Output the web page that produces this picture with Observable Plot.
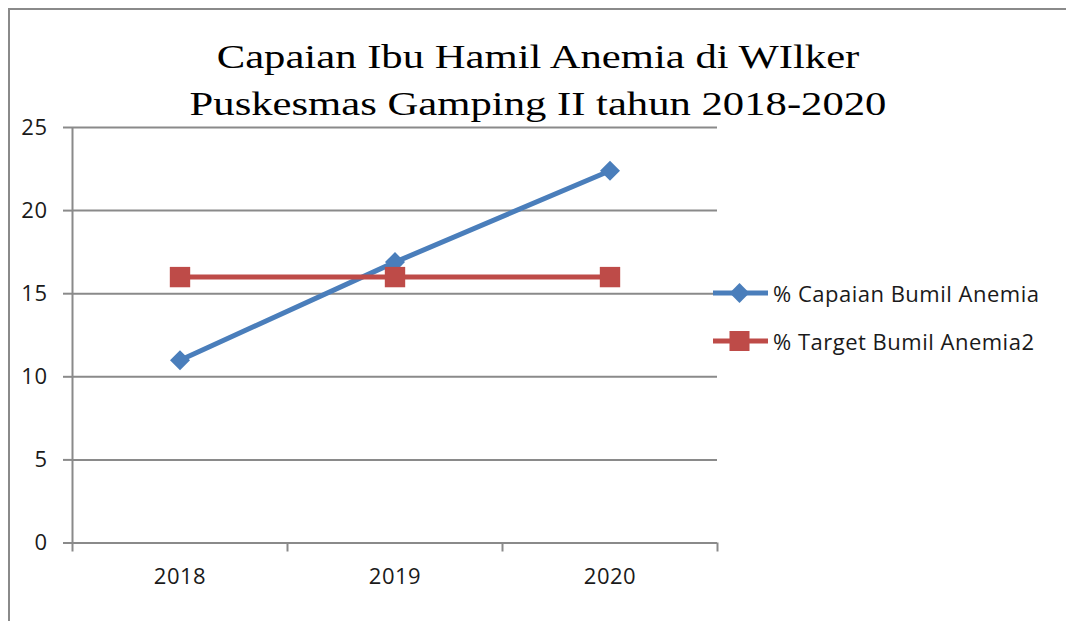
<!DOCTYPE html>
<html>
<head>
<meta charset="utf-8">
<script src="https://cdn.jsdelivr.net/npm/d3@7"></script>
<script src="https://cdn.jsdelivr.net/npm/@observablehq/plot@0.6"></script>
<style>
  html, body { margin: 0; padding: 0; background: #fff; }
  #wrap { position: relative; width: 1066px; height: 621px; overflow: hidden; }
  #frame { position: absolute; left: 8px; top: 8px; width: 1200px; height: 700px;
           border-left: 2px solid #8a8a8a; border-top: 2px solid #8a8a8a; box-sizing: border-box; }
  #title { position: absolute; left: 0; top: 34px; width: 1076px; text-align: center;
           font-family: "Liberation Serif", "Times New Roman", serif; font-size: 34px;
           line-height: 46.6px; color: #000; transform: scaleX(1.255); transform-origin: 538px 0; }
  #chart { position: absolute; left: 0; top: 0; }
  #legend { position: absolute; left: 713px; top: 269px; font-family: "Open Sans", sans-serif;
            font-size: 22px; letter-spacing: 0.5px; color: #1a1a1a; }
  .item { display: flex; align-items: center; height: 48px; }
  .item svg { margin-right: 3px; }
</style>
</head>
<body>
<div id="wrap">
  <div id="frame"></div>
  <div id="chart"></div>
  <div id="title">Capaian Ibu Hamil Anemia di WIlker<br>Puskesmas Gamping II tahun 2018-2020</div>
  <div id="legend"></div>
</div>
<script>
const years = ["2018", "2019", "2020"];
const capaian = [11, 16.9, 22.4];
const target = [16, 16, 16];
const yTicks = [0, 5, 10, 15, 20, 25];
const seriesNames = ["% Capaian Bumil Anemia", "% Target Bumil Anemia2"];
const seriesColors = ["#4A7EBB", "#BE4B48"];

const capData = years.map((y, i) => ({year: y, xi: i + 0.5, value: capaian[i]}));
const tgtData = years.map((y, i) => ({year: y, xi: i + 0.5, value: target[i]}));

const grid = "#8a8a8a";
const chart = Plot.plot({
  width: 1066,
  height: 621,
  marginLeft: 72,
  marginRight: 349,
  marginTop: 127,
  marginBottom: 78.5,
  x: {type: "linear", domain: [0, years.length], axis: null},
  y: {domain: [0, 25], axis: null},
  style: {fontFamily: "'Open Sans', sans-serif", fontSize: "22px", letterSpacing: "0.5px", background: "transparent", color: "#1a1a1a"},
  marks: [
    Plot.gridY(yTicks, {stroke: grid, strokeOpacity: 1, strokeWidth: 2}),
    Plot.axisY({ticks: yTicks, label: null, tickSize: 9, tickPadding: 16, stroke: grid, strokeWidth: 2, fill: "#1a1a1a", tickFormat: d => String(d)}),
    Plot.ruleX([0], {y1: 0, y2: 25, stroke: grid, strokeWidth: 2}),
    Plot.axisX({ticks: d3.range(years.length + 1), label: null, tickSize: 9, stroke: grid, strokeWidth: 2, tickFormat: () => ""}),
    Plot.axisX({ticks: years.map((_, i) => i + 0.5), label: null, tickSize: 0, tickPadding: 25, fill: "#1a1a1a", tickFormat: d => years[Math.floor(d)]}),
    Plot.line(capData, {x: "xi", y: "value", stroke: seriesColors[0], strokeWidth: 5}),
    Plot.dot(capData, {x: "xi", y: "value", symbol: "square", rotate: 45, r: 8, fill: seriesColors[0]}),
    Plot.line(tgtData, {x: "xi", y: "value", stroke: seriesColors[1], strokeWidth: 5}),
    Plot.dot(tgtData, {x: "xi", y: "value", symbol: "square", r: 11.5, fill: seriesColors[1]})
  ]
});
document.getElementById("chart").appendChild(chart);

const legend = document.getElementById("legend");
seriesNames.forEach((name, i) => {
  const item = document.createElement("div");
  item.className = "item";
  const marker = i === 0
    ? `<rect x="19.5" y="7" width="14" height="14" fill="${seriesColors[i]}" transform="rotate(45 26.5 14)"/>`
    : `<rect x="16.5" y="4" width="20" height="20" fill="${seriesColors[i]}"/>`;
  item.innerHTML = `<svg width="57" height="28"><line x1="0" x2="55" y1="14" y2="14" stroke="${seriesColors[i]}" stroke-width="5"/>${marker}</svg><span>${name}</span>`;
  legend.appendChild(item);
});
</script>
</body>
</html>
